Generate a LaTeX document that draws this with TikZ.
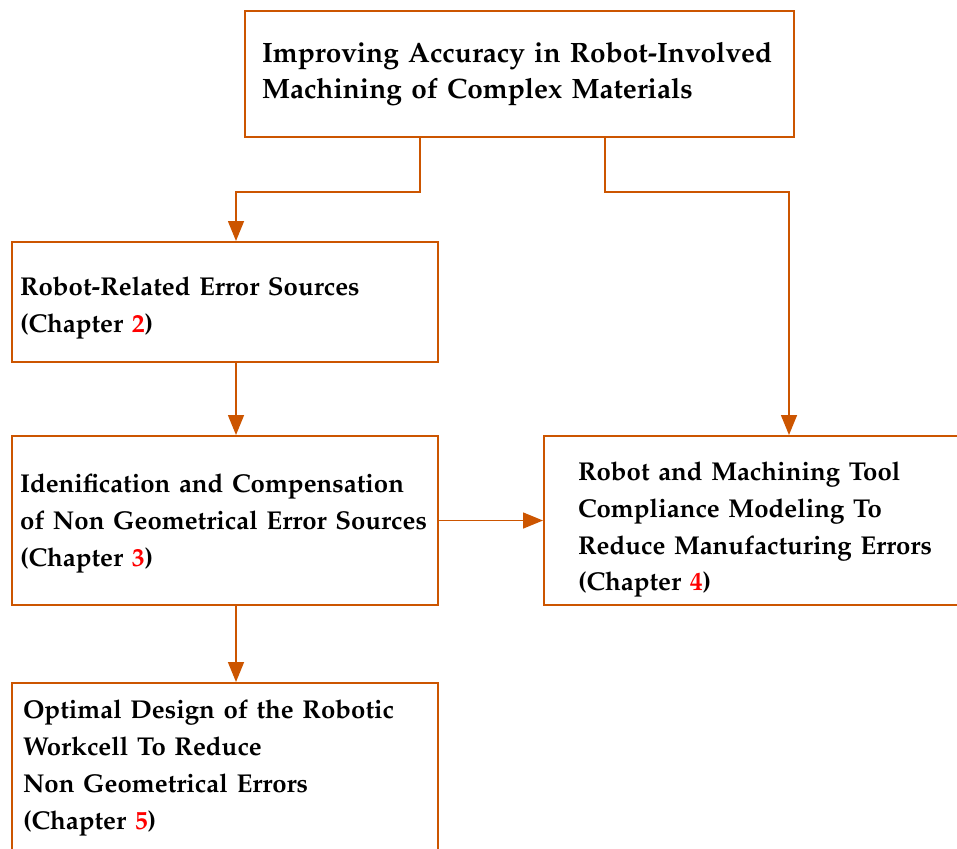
\documentclass[tikz,border=0pt]{standalone}
\usepackage[T1]{fontenc}
\usepackage{mathpazo}
\usepackage{tikz}
\usetikzlibrary{calc}
\usetikzlibrary{positioning}
\usetikzlibrary{arrows.meta}
\definecolor{flowc}{RGB}{204,85,0}
\newcommand{\chapref}[1]{{\color{red}#1}}

\begin{document}
\begin{tikzpicture}[x=0.5pt,y=-0.5pt]
\tikzstyle{box}=[rectangle,align=left,draw=flowc,line width=1pt,fill=white,anchor=north west,
                 font=\bfseries\fontsize{12.9}{18.4}\selectfont]
\tikzstyle{flow}=[draw=flowc,line width=0.75pt,-{Triangle[length=10pt,width=8pt]}]
\useasboundingbox (0,0) rectangle (957,848);
\clip (0,0) rectangle (957,848);
\node[box,text width=257.5pt,inner xsep=8.5pt,minimum height=63pt,
      font=\bfseries\fontsize{14}{18}\selectfont] at(244, 10) (top)
     {Improving Accuracy in Robot-Involved\\
      Machining of Complex Materials};
\node[box,text width=205pt,inner xsep=4pt,minimum height=60pt,text height=15.5pt] at(11, 241) (robot)
     {Robot-Related Error Sources\\
      (Chapter \chapref{2})};
\node[box,text width=205pt,inner xsep=4pt,minimum height=84.5pt,text height=12.5pt] at(11, 435) (ident)
     {Idenification and Compensation\\
      of Non Geometrical Error Sources\\
      (Chapter \chapref{3})};
\node[box,text width=190pt,inner xsep=17pt,minimum height=84.5pt,text height=18.5pt] at(543, 435) (comp)
     {Robot and Machining Tool\\
      Compliance Modeling To\\
      Reduce Manufacturing Errors\\
      (Chapter \chapref{4})};
\node[box,text width=202pt,inner xsep=5.5pt,minimum height=85pt] at(11, 682) (design)
     {Optimal Design of the Robotic\\
      Workcell To Reduce\\
      Non Geometrical Errors\\
      (Chapter \chapref{5})};
\draw[flow] ([xshift=88pt]top.south west) -- ++(0,54) -| ([xshift=112.5pt]robot.north west);
\draw[flow] ([xshift=180.5pt]top.south west) -- ++(0,54) -| ([xshift=123pt]comp.north west);
\draw[flow] ([xshift=112.5pt]robot.south west) -- ([xshift=112.5pt]ident.north west);
\draw[flow] ([xshift=112.5pt]ident.south west) -- ([xshift=112.5pt]design.north west);
\draw[flow] (ident.east) -- (comp.west);
\end{tikzpicture}
\end{document}
